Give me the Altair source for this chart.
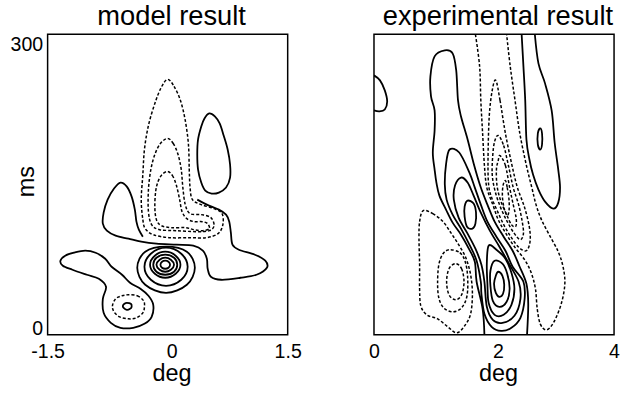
import altair as alt
import pandas as pd

FONT = "Liberation Sans"

# ---------------- model result (deg, ms) ----------------
m_tall_out_deg = [0.00, 0.08, 0.16, 0.22, 0.26, 0.27, 0.28, 0.31, 0.42, 0.58, 0.68, 0.69, 0.63, 0.48, 0.27, 0.02, -0.18, -0.28, -0.31, -0.33, -0.31, -0.29, -0.24, -0.16, -0.08]
m_tall_out_ms = [255, 248, 234, 214, 190, 165, 147, 135, 130, 126, 121, 110, 101, 97, 97, 97, 100, 106, 115, 135, 160, 185, 209, 231, 247]

m_tall_mid_deg = [0.00, 0.07, 0.13, 0.17, 0.19, 0.22, 0.28, 0.42, 0.54, 0.58, 0.52, 0.36, 0.11, -0.10, -0.20, -0.24, -0.24, -0.21, -0.16, -0.09]
m_tall_mid_ms = [196, 191, 180, 165, 147, 130, 121, 120, 117, 109, 104, 103, 104, 105, 110, 123, 145, 165, 180, 191]

m_tall_in_deg = [0.00, 0.06, 0.11, 0.15, 0.18, 0.24, 0.33, 0.43, 0.50, 0.52, 0.44, 0.33, 0.22, 0.05, -0.08, -0.14, -0.16, -0.15, -0.12, -0.07]
m_tall_in_ms = [163, 159, 149, 135, 123, 116, 113, 113, 111, 106, 104, 105, 107, 107, 109, 115, 127, 143, 153, 160]

m_oval_deg = [0.52, 0.59, 0.65, 0.70, 0.75, 0.78, 0.78, 0.73, 0.64, 0.55, 0.47, 0.42, 0.38, 0.37, 0.38, 0.42, 0.46]
m_oval_ms = [221, 218, 211, 199, 185, 170, 157, 147, 142, 141, 144, 152, 165, 180, 195, 208, 216]

m_ridge_deg = [-0.31, -0.36, -0.39, -0.41, -0.45, -0.51, -0.59, -0.67, -0.75, -0.80, -0.81, -0.76, -0.65, -0.49, -0.33, -0.14, 0.11, 0.32, 0.44, 0.49, 0.50, 0.54, 0.67, 0.91, 1.11, 1.24, 1.22, 1.09, 0.89, 0.81, 0.79, 0.77, 0.73, 0.64, 0.49, 0.37]
m_ridge_ms = [98, 105, 113, 125, 138, 148, 152, 146, 135, 122, 111, 104, 99, 96, 93, 91, 90, 89, 84, 76, 66, 58, 55, 57, 60, 67, 74, 80, 85, 90, 102, 113, 120, 125, 130, 135]

m_lobe_deg = [-1.34, -1.28, -1.17, -1.03, -0.90, -0.78, -0.70, -0.57, -0.47, -0.34, -0.24, -0.18, -0.20, -0.29, -0.43, -0.59, -0.71, -0.80, -0.81, -0.77, -0.86, -1.01, -1.19, -1.31]
m_lobe_ms = [74, 79, 82, 84, 82, 76, 68, 60, 52, 46, 39, 30, 18, 11, 7, 7, 12, 22, 36, 48, 56, 60, 65, 69]

m_blob_ring_deg = [-0.49, -0.38, -0.30, -0.29, -0.31, -0.39, -0.49, -0.60, -0.67, -0.69, -0.65, -0.57]
m_blob_ring_ms = [40, 39, 34, 28, 22, 17, 16, 18, 23, 29, 36, 39]

m_blob_core_deg = [-0.51, -0.46, -0.45, -0.47, -0.51, -0.55, -0.56, -0.54]
m_blob_core_ms = [32, 31, 28, 26, 25, 27, 29, 31]

m_ring1_deg = [-0.03, 0.01, 0.03, 0.01, -0.03, -0.07, -0.09, -0.07]
m_ring1_ms = [74, 73, 70, 67, 66, 67, 70, 73]
m_ring2_deg = [-0.03, 0.04, 0.08, 0.04, -0.03, -0.10, -0.14, -0.10]
m_ring2_ms = [77, 75, 70, 65, 63, 65, 70, 75]
m_ring3_deg = [-0.03, 0.08, 0.12, 0.08, -0.03, -0.14, -0.18, -0.14]
m_ring3_ms = [80, 77, 70, 63, 60, 63, 70, 77]
m_ring4_deg = [-0.03, 0.10, 0.16, 0.10, -0.03, -0.16, -0.22, -0.16]
m_ring4_ms = [83, 79, 70, 61, 57, 61, 70, 79]
m_ring5_deg = [-0.02, 0.17, 0.25, 0.17, -0.02, -0.21, -0.29, -0.21]
m_ring5_ms = [87, 81, 68, 55, 49, 55, 68, 81]
m_ring6_deg = [-0.02, 0.24, 0.34, 0.24, -0.02, -0.28, -0.38, -0.28]
m_ring6_ms = [88, 83, 67, 50, 42, 50, 67, 83]

# ---------------- experimental result (deg, ms) ----------------
e_edge_deg = [0.00, 0.10, 0.18, 0.22, 0.18, 0.09, 0.00]
e_edge_ms = [259, 254, 244, 233, 225, 223, 224]

e_ridge1_deg = [1.84, 1.81, 1.71, 1.68, 1.58, 1.45, 1.31, 1.20, 1.09, 1.04, 1.01, 0.98, 1.01, 1.01, 0.95, 0.94, 1.01, 1.18, 1.31, 1.37, 1.40, 1.45, 1.56, 1.67, 1.78, 1.89, 2.01, 2.16, 2.31, 2.42, 2.54, 2.57, 2.55]
e_ridge1_ms = [0, 26, 53, 73, 86, 100, 112, 125, 139, 152, 165, 182, 204, 224, 238, 258, 278, 284, 281, 264, 234, 218, 195, 169, 147, 130, 113, 98, 84, 69, 51, 31, 0]

e_ridge2_deg = [1.26, 1.42, 1.59, 1.68, 1.78, 1.89, 2.04, 2.19, 2.31, 2.49, 2.51, 2.44, 2.29, 2.12, 1.96, 1.84, 1.79, 1.78, 1.71, 1.59, 1.45, 1.31, 1.21, 1.18, 1.20]
e_ridge2_ms = [185, 182, 162, 147, 130, 113, 98, 84, 68, 53, 36, 17, 7, 4, 8, 21, 41, 53, 74, 90, 106, 120, 135, 150, 170]

e_ridge3_deg = [1.45, 1.56, 1.66, 1.78, 1.93, 2.09, 2.24, 2.41, 2.44, 2.34, 2.14, 1.98, 1.88, 1.84, 1.79, 1.69, 1.55, 1.41, 1.33, 1.35]
e_ridge3_ms = [157, 152, 139, 122, 104, 88, 72, 53, 36, 19, 12, 15, 28, 53, 70, 86, 102, 117, 135, 149]

e_ridge4_deg = [1.91, 2.04, 2.19, 2.29, 2.34, 2.29, 2.16, 2.01, 1.91, 1.89, 1.88]
e_ridge4_ms = [89, 85, 76, 62, 46, 30, 20, 20, 32, 51, 71]

e_ridge5_deg = [2.01, 2.14, 2.22, 2.26, 2.21, 2.09, 1.98, 1.94, 1.94]
e_ridge5_ms = [74, 71, 61, 46, 33, 28, 34, 49, 64]

e_ridge6_deg = [2.07, 2.14, 2.17, 2.15, 2.09, 2.03, 2.00, 2.03]
e_ridge6_ms = [63, 59, 50, 41, 38, 42, 51, 59]

e_knob_deg = [1.56, 1.66, 1.70, 1.69, 1.64, 1.55, 1.51, 1.51]
e_knob_ms = [134, 131, 122, 111, 106, 108, 118, 128]

e_arc_deg = [2.46, 2.49, 2.52, 2.54, 2.59, 2.65, 2.74, 2.85, 2.99, 3.07, 3.10, 3.07, 3.01, 2.96, 2.85, 2.74, 2.68]
e_arc_ms = [300, 268, 234, 195, 175, 160, 145, 133, 126, 132, 147, 165, 192, 224, 251, 271, 300]

e_pip_deg = [2.77, 2.80, 2.80, 2.77, 2.73, 2.73]
e_pip_ms = [206, 201, 190, 185, 190, 201]

e_trough_deg = [1.69, 1.76, 1.78, 1.81, 1.84, 1.88, 1.98, 2.07, 2.19, 2.34, 2.51, 2.62, 2.69, 2.72, 2.77, 2.87, 2.99, 3.12, 3.18, 3.15, 3.07, 2.92, 2.79, 2.70, 2.63, 2.54, 2.43, 2.35, 2.27, 2.21]
e_trough_ms = [300, 268, 234, 201, 169, 147, 130, 115, 102, 88, 75, 62, 46, 26, 11, 5, 12, 31, 51, 68, 83, 100, 115, 130, 147, 169, 201, 234, 268, 300]

e_dip1_deg = [2.03, 2.10, 2.19, 2.30, 2.39, 2.51, 2.59, 2.60, 2.54, 2.42, 2.29, 2.17, 2.06, 1.96, 1.91, 1.90, 1.92, 1.97]
e_dip1_ms = [254, 234, 201, 169, 147, 127, 107, 93, 84, 87, 97, 109, 123, 137, 150, 175, 218, 244]

e_dip2_deg = [2.07, 2.16, 2.24, 2.32, 2.41, 2.47, 2.49, 2.44, 2.34, 2.22, 2.11, 2.02, 1.97, 1.98, 2.01]
e_dip2_ms = [199, 189, 169, 147, 130, 113, 101, 95, 101, 113, 127, 143, 160, 180, 193]

e_dip3_deg = [2.10, 2.19, 2.26, 2.32, 2.37, 2.36, 2.29, 2.21, 2.11, 2.05, 2.04, 2.07]
e_dip3_ms = [179, 169, 147, 130, 116, 108, 110, 120, 134, 149, 165, 174]

e_dip4_deg = [2.19, 2.22, 2.25, 2.25, 2.22, 2.17, 2.14, 2.15]
e_dip4_ms = [154, 147, 135, 124, 119, 126, 138, 149]

e_valley1_deg = [0.82, 0.98, 1.15, 1.28, 1.41, 1.53, 1.61, 1.64, 1.61, 1.51, 1.38, 1.23, 1.06, 0.88, 0.78, 0.76, 0.76, 0.75, 0.76]
e_valley1_ms = [124, 121, 113, 102, 90, 77, 60, 41, 21, 9, 2, 8, 16, 20, 29, 46, 70, 96, 113]

e_valley2_deg = [1.26, 1.43, 1.52, 1.56, 1.55, 1.46, 1.31, 1.16, 1.08, 1.06, 1.08, 1.15]
e_valley2_ms = [85, 82, 73, 58, 39, 27, 23, 27, 37, 52, 70, 81]

e_valley3_deg = [1.36, 1.46, 1.50, 1.46, 1.36, 1.25, 1.21, 1.25]
e_valley3_ms = [71, 66, 53, 40, 35, 40, 53, 66]

# kind: sc = solid closed, dc = dashed closed, so = solid open, do = dashed open
model_contours = [
    ("m_tall_out", "dc", m_tall_out_deg, m_tall_out_ms),
    ("m_tall_mid", "dc", m_tall_mid_deg, m_tall_mid_ms),
    ("m_tall_in", "dc", m_tall_in_deg, m_tall_in_ms),
    ("m_oval", "sc", m_oval_deg, m_oval_ms),
    ("m_ridge", "so", m_ridge_deg, m_ridge_ms),
    ("m_lobe", "sc", m_lobe_deg, m_lobe_ms),
    ("m_blob_ring", "dc", m_blob_ring_deg, m_blob_ring_ms),
    ("m_blob_core", "sc", m_blob_core_deg, m_blob_core_ms),
    ("m_ring1", "sc", m_ring1_deg, m_ring1_ms),
    ("m_ring2", "sc", m_ring2_deg, m_ring2_ms),
    ("m_ring3", "sc", m_ring3_deg, m_ring3_ms),
    ("m_ring4", "sc", m_ring4_deg, m_ring4_ms),
    ("m_ring5", "sc", m_ring5_deg, m_ring5_ms),
    ("m_ring6", "sc", m_ring6_deg, m_ring6_ms),
]
exp_contours = [
    ("e_edge", "so", e_edge_deg, e_edge_ms),
    ("e_ridge1", "so", e_ridge1_deg, e_ridge1_ms),
    ("e_ridge2", "sc", e_ridge2_deg, e_ridge2_ms),
    ("e_ridge3", "sc", e_ridge3_deg, e_ridge3_ms),
    ("e_ridge4", "sc", e_ridge4_deg, e_ridge4_ms),
    ("e_ridge5", "sc", e_ridge5_deg, e_ridge5_ms),
    ("e_ridge6", "sc", e_ridge6_deg, e_ridge6_ms),
    ("e_knob", "sc", e_knob_deg, e_knob_ms),
    ("e_arc", "so", e_arc_deg, e_arc_ms),
    ("e_pip", "sc", e_pip_deg, e_pip_ms),
    ("e_trough", "do", e_trough_deg, e_trough_ms),
    ("e_dip1", "dc", e_dip1_deg, e_dip1_ms),
    ("e_dip2", "dc", e_dip2_deg, e_dip2_ms),
    ("e_dip3", "dc", e_dip3_deg, e_dip3_ms),
    ("e_dip4", "dc", e_dip4_deg, e_dip4_ms),
    ("e_valley1", "dc", e_valley1_deg, e_valley1_ms),
    ("e_valley2", "dc", e_valley2_deg, e_valley2_ms),
    ("e_valley3", "dc", e_valley3_deg, e_valley3_ms),
]


def to_frame(contours):
    rows = []
    for cid, kind, xs, ys in contours:
        for i, (a, b) in enumerate(zip(xs, ys)):
            rows.append({"cid": cid, "kind": kind, "i": i, "x": a, "y": b})
    return pd.DataFrame(rows)


STYLES = {
    "sc": dict(interpolate="cardinal-closed", strokeWidth=1.8),
    "so": dict(interpolate="cardinal", strokeWidth=1.8),
    "dc": dict(interpolate="cardinal-closed", strokeWidth=1.5, strokeDash=[3, 2]),
    "do": dict(interpolate="cardinal", strokeWidth=1.5, strokeDash=[3, 2]),
}

LABEL_EXPR = "replace(format(datum.value, '~g'), '\u2212', '-')"


def panel(df, xdom, xvals, title, center_val, show_y, title_dy):
    xaxis = alt.Axis(
        values=xvals, title="deg", domain=False, ticks=False, tickSize=0, grid=False,
        labelFlush=False, labelExpr=LABEL_EXPR, labelPadding=7,
        labelFont=FONT, labelFontSize=19.7, labelColor="black",
        labelOffset={"condition": {"test": f"datum.value == {center_val}", "value": 4}, "value": 0},
        titleFont=FONT, titleFontSize=23.6, titleFontWeight="normal", titleColor="black",
        titleX=125, titleY=title_dy, titleBaseline="alphabetic", titleAlign="center",
    )
    if show_y:
        yaxis = alt.Axis(
            values=[0, 300], title="ms", domain=False, ticks=False, tickSize=0, grid=False,
            labelFont=FONT, labelFontSize=19.7, labelColor="black", labelPadding=5,
            labelBaseline={"condition": {"test": "datum.value == 0", "value": "alphabetic"}, "value": "top"},
            titleFont=FONT, titleFontSize=23.6, titleFontWeight="normal", titleColor="black",
            titleX=-14, titleY=148, titleAngle=270, titleBaseline="alphabetic", titleAlign="center",
        )
    else:
        yaxis = None
    base = alt.Chart(df).encode(
        x=alt.X("x:Q", scale=alt.Scale(domain=xdom, nice=False, zero=False), axis=xaxis),
        y=alt.Y("y:Q", scale=alt.Scale(domain=[0, 300], nice=False, zero=False), axis=yaxis),
        detail="cid:N",
        order="i:Q",
    )
    layers = []
    for kind, style in STYLES.items():
        if (df["kind"] == kind).any():
            layers.append(
                base.transform_filter(alt.datum.kind == kind).mark_line(color="black", clip=True, **style)
            )
    return alt.layer(*layers).properties(
        width=242, height=303,
        title=alt.TitleParams(text=title, font=FONT, fontSize=27.5, fontWeight="normal",
                              color="black", dx=4, offset=4),
    )


left = panel(to_frame(model_contours), [-1.5, 1.5], [-1.5, 0, 1.5], "model result", 0, True, 46)
right = panel(to_frame(exp_contours), [0, 4], [0, 2, 4], "experimental result", 2, False, 46)

chart = alt.hconcat(left, right, spacing=65).properties(
    padding={"left": 9, "top": 0, "right": 0, "bottom": 0},
    background="white",
).configure_view(stroke="black", strokeWidth=1.5)

chart.save("out.html", embed_options={"renderer": "svg", "actions": False})
